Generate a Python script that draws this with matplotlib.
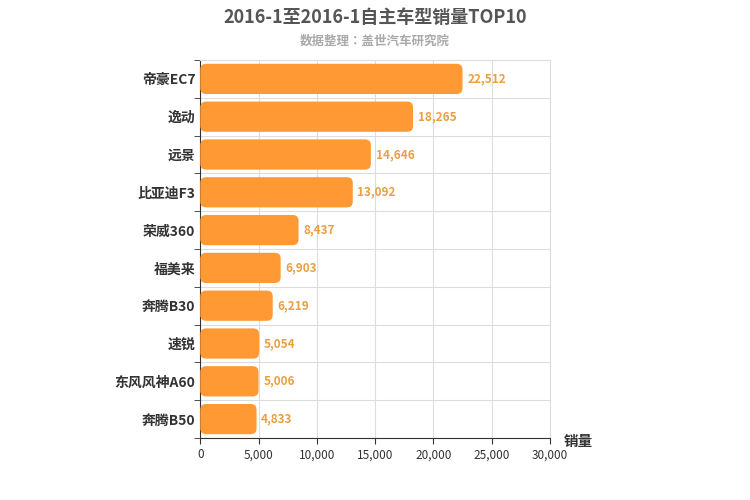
import matplotlib.pyplot as plt
from matplotlib import font_manager
from matplotlib.patches import FancyBboxPatch
import numpy as np

# pick whichever CJK family name matplotlib actually registered
cjk = [f.name for f in font_manager.fontManager.ttflist if 'CJK' in f.name]
plt.rcParams['font.family'] = (sorted(set(cjk)) or []) + ['DejaVu Sans']
plt.rcParams['font.sans-serif'] = sorted(set(cjk)) + ['DejaVu Sans']

models = ['帝豪EC7', '逸动', '远景', '比亚迪F3', '荣威360', '福美来', '奔腾B30', '速锐', '东风风神A60', '奔腾B50']
sales = [22512, 18265, 14646, 13092, 8437, 6903, 6219, 5054, 5006, 4833]
xticks = [0, 5000, 10000, 15000, 20000, 25000, 30000]

fig = plt.figure(figsize=(7.5, 5), dpi=100)
ax = fig.add_axes([0.267, 0.124, 0.466, 0.756])

n = len(models)
ys = np.arange(n)[::-1]
h = 0.8
for y, v in zip(ys, sales):
    ax.add_patch(FancyBboxPatch((0, y - h / 2), v, h,
                                boxstyle='round,pad=0,rounding_size=500',
                                mutation_aspect=3.1e-4,
                                facecolor='#FF9933', edgecolor='none', zorder=3))
    ax.text(v + 400, y, f'{v:,}', va='center', ha='left', fontsize=8.5,
            color='#E8A040', fontweight='bold', zorder=4)

ax.set_xlim(0, 30000)
ax.set_ylim(-0.5, n - 0.5)
ax.set_xticks(xticks)
ax.set_xticklabels([f'{t:,}' for t in xticks], fontsize=8.5, color='#333333')
ax.set_yticks(ys)
ax.set_yticklabels(models, fontsize=10, fontweight='bold', color='#333333')
ax.set_yticks(np.arange(n + 1) - 0.5, minor=True)
ax.tick_params(axis='y', which='major', length=0)
ax.tick_params(axis='y', which='minor', length=4, color='#333333')
ax.tick_params(axis='x', length=4, color='#333333')
ax.grid(True, axis='x', color='#dddddd', linewidth=0.8, zorder=0)
ax.grid(True, axis='y', which='minor', color='#dddddd', linewidth=0.8, zorder=0)
for s in ['top', 'right']:
    ax.spines[s].set_color('#dddddd')
for s in ['left', 'bottom']:
    ax.spines[s].set_color('#333333')

fig.text(0.5, 0.965, '2016-1至2016-1自主车型销量TOP10', ha='center', va='center',
         fontsize=13, fontweight='bold', color='#555555')
fig.text(0.5, 0.918, '数据整理：盖世汽车研究院', ha='center', va='center',
         fontsize=9, fontweight='bold', color='#aaaaaa')
fig.text(0.752, 0.118, '销量', ha='left', va='center', fontsize=10.5,
         fontweight='bold', color='#333333')

fig.savefig('out.png')
